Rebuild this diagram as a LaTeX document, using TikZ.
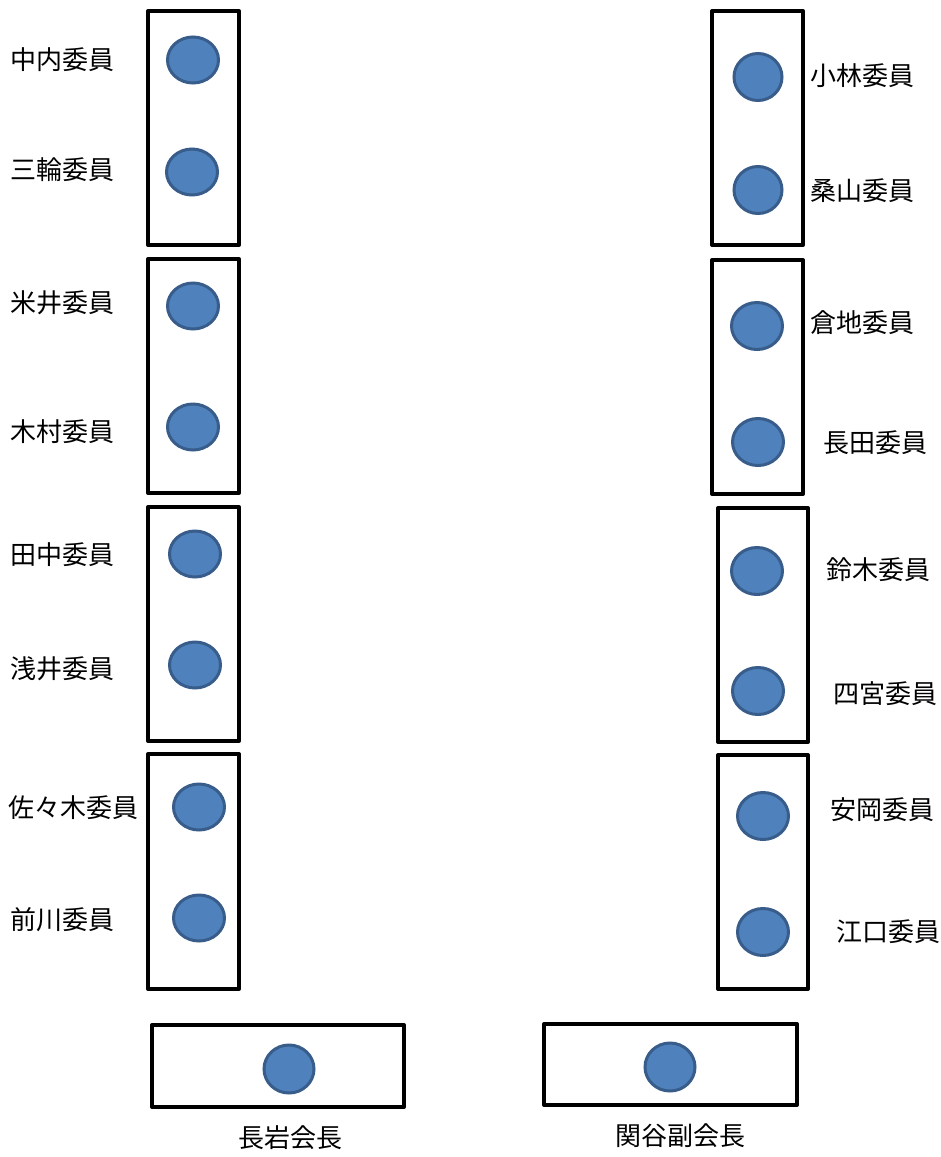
\documentclass[tikz,border=0pt]{standalone}
\usepackage{fontspec}
\usetikzlibrary{shapes.geometric}
\newfontfamily\jpfont{Noto Sans CJK JP}
\definecolor{seatfill}{HTML}{4F81BD}
\definecolor{seatline}{HTML}{385D8A}

\begin{document}
\begin{tikzpicture}[x=1pt,y=-1pt,
		seat/.style={ellipse,draw=seatline,fill=seatfill,line width=3pt,inner sep=0pt},
		member/.style={anchor=west,inner sep=0pt,font=\jpfont\fontsize{26}{30}\selectfont},
		desk/.style={line width=4pt,line join=round}]
	\useasboundingbox[fill=white] (0,0) rectangle (941,1157);

	% left desks
	\draw[desk] (148,11) rectangle (239,245);
	\draw[desk] (148,259) rectangle (239,493);
	\draw[desk] (148,507) rectangle (239,741);
	\draw[desk] (148,754) rectangle (239,989);

	% right desks
	\draw[desk] (712,11) rectangle (803,245);
	\draw[desk] (712,260) rectangle (803,494);
	\draw[desk] (718,508) rectangle (808,742);
	\draw[desk] (718,755) rectangle (808,989);

	% front desks
	\draw[desk] (152,1025) rectangle (404,1107);
	\draw[desk] (544,1024) rectangle (797,1105);

	% seats
	\node[seat,minimum width=51pt,minimum height=46pt] (nakauchi) at (193,60) {};
	\node[seat,minimum width=51pt,minimum height=46pt] (miwa) at (192,172) {};
	\node[seat,minimum width=51pt,minimum height=46pt] (yonei) at (193,306) {};
	\node[seat,minimum width=51pt,minimum height=46pt] (kimura) at (193,427) {};
	\node[seat,minimum width=51pt,minimum height=46pt] (tanaka) at (195,554) {};
	\node[seat,minimum width=51pt,minimum height=46pt] (asai) at (195,665) {};
	\node[seat,minimum width=51pt,minimum height=46pt] (sasaki) at (199,807) {};
	\node[seat,minimum width=51pt,minimum height=46pt] (maekawa) at (199,918) {};

	\node[seat,minimum width=48pt,minimum height=47pt] (kobayashi) at (758,77) {};
	\node[seat,minimum width=48pt,minimum height=47pt] (kuwayama) at (758,190) {};
	\node[seat,minimum width=51pt,minimum height=47pt] (kurachi) at (757,326) {};
	\node[seat,minimum width=51pt,minimum height=47pt] (nagata) at (758,442) {};
	\node[seat,minimum width=51pt,minimum height=47pt] (suzuki) at (757,571) {};
	\node[seat,minimum width=51pt,minimum height=47pt] (shinomiya) at (758,691) {};
	\node[seat,minimum width=51pt,minimum height=47pt] (yasuoka) at (763,816) {};
	\node[seat,minimum width=51pt,minimum height=47pt] (eguchi) at (763,932) {};

	\node[seat,minimum width=50pt,minimum height=48pt] (nagaiwa) at (289,1069) {};
	\node[seat,minimum width=50pt,minimum height=48pt] (sekiya) at (670,1067) {};

	% names
	\node[member] (nakauchi-n) at (10,60) {中内委員};
	\node[member] (miwa-n) at (10,170) {三輪委員};
	\node[member] (yonei-n) at (10,303) {米井委員};
	\node[member] (kimura-n) at (10,432) {木村委員};
	\node[member] (tanaka-n) at (10,555) {田中委員};
	\node[member] (asai-n) at (10,669) {浅井委員};
	\node[member] (sasaki-n) at (8,808) {佐々木委員};
	\node[member] (maekawa-n) at (10,920) {前川委員};

	\node[member] (kobayashi-n) at (810,76) {小林委員};
	\node[member] (kuwayama-n) at (810,191) {桑山委員};
	\node[member] (kurachi-n) at (810,323) {倉地委員};
	\node[member] (nagata-n) at (823,443) {長田委員};
	\node[member] (suzuki-n) at (826,570) {鈴木委員};
	\node[member] (shinomiya-n) at (833,694) {四宮委員};
	\node[member] (yasuoka-n) at (830,810) {安岡委員};
	\node[member] (eguchi-n) at (836,932) {江口委員};

	\node[member] (nagaiwa-n) at (238,1138) {長岩会長};
	\node[member] (sekiya-n) at (615,1136) {関谷副会長};
\end{tikzpicture}
\end{document}
